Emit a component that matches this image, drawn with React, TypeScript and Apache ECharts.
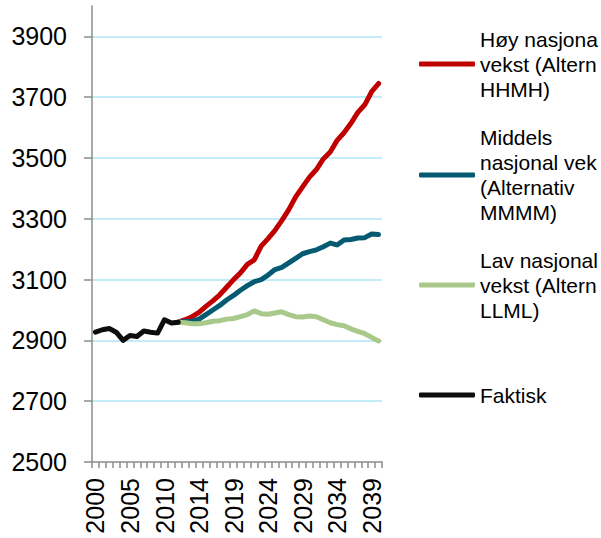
import React, { useEffect, useRef } from "react";
import * as echarts from "echarts";

// Category axis (2012 appears twice in the source workbook)
const categories = [
  "2000", "2001", "2002", "2003", "2004", "2005", "2006", "2007", "2008", "2009",
  "2010", "2011", "2012", "2012", "2013", "2014", "2015", "2016", "2017", "2018",
  "2019", "2020", "2021", "2022", "2023", "2024", "2025", "2026", "2027", "2028",
  "2029", "2030", "2031", "2032", "2033", "2034", "2035", "2036", "2037", "2038",
  "2039", "2040",
];

const yTicks = [2500, 2700, 2900, 3100, 3300, 3500, 3700, 3900];

// Actual values, indices 0..12
const faktisk = [2927, 2935, 2939, 2927, 2900, 2916, 2913, 2931, 2927, 2924, 2968, 2957, 2960];

// Projections start at index 12
const projectionStart = 12;
const hoy = [
  2960, 2968, 2978, 2992, 3012, 3030, 3050, 3075, 3100, 3122, 3150, 3165, 3210, 3235, 3262,
  3295, 3330, 3372, 3405, 3437, 3462, 3497, 3520, 3558, 3583, 3614, 3650, 3675, 3718, 3745,
];
const middels = [
  2960, 2962, 2963, 2970, 2985, 3000, 3015, 3033, 3048, 3065, 3080, 3093, 3100, 3115, 3133,
  3140, 3155, 3170, 3185, 3192, 3198, 3208, 3220, 3214, 3230, 3232, 3237, 3238, 3250, 3248,
];
const lav = [
  2960, 2958, 2955, 2955, 2958, 2963, 2965, 2970, 2972, 2978, 2985, 2997, 2988, 2986, 2990,
  2994, 2985, 2978, 2977, 2980, 2978, 2968, 2958, 2952, 2948, 2938, 2930, 2922, 2910, 2898,
];

const seriesNames = ["Høy", "Middels", "Lav", "Faktisk"];
const legendLines: Record<string, string[]> = {
  "Høy": ["Høy nasjona", "vekst (Altern", "HHMH)"],
  "Middels": ["Middels", "nasjonal vek", "(Alternativ", "MMMM)"],
  "Lav": ["Lav nasjonal", "vekst (Altern", "LLML)"],
  "Faktisk": ["Faktisk"],
};
const seriesColors = ["#c00000", "#045a70", "#a9c98a", "#0d0d0d"];

const FONT = "'Liberation Sans', Arial, sans-serif";
const LEGEND_LH = 25;
const legendCenters = [64, 175, 285, 395];

function padSeries(start: number, vals: number[]): (number | null)[] {
  const out: (number | null)[] = [];
  for (let i = 0; i < start; i++) out.push(null);
  return out.concat(vals);
}

export default function App() {
  const ref = useRef<HTMLDivElement>(null);

  useEffect(() => {
    document.body.style.margin = "0";
    if (!ref.current) return;
    const chart = echarts.init(ref.current, null, { renderer: "svg" });

    const dataSets = [
      padSeries(projectionStart, hoy),
      padSeries(projectionStart, middels),
      padSeries(projectionStart, lav),
      faktisk,
    ];

    const legends = seriesNames.map((name, i) => {
      const n = legendLines[name].length;
      const h = (2 * n - 1) * LEGEND_LH;
      return {
        show: true,
        orient: "vertical",
        left: 419,
        top: legendCenters[i] - h / 2,
        padding: 0,
        itemWidth: 56,
        itemHeight: 5,
        icon: "roundRect",
        selectedMode: false,
        data: [name],
        formatter: (nm: string) => legendLines[nm].join("\n"),
        textStyle: {
          fontFamily: FONT,
          fontSize: 21,
          lineHeight: LEGEND_LH,
          color: "#000",
          padding: [(n - 1) * LEGEND_LH, 0, 0, 0],
        },
      };
    });

    const axisGray = "#8c8c8c";

    chart.setOption({
      animation: false,
      backgroundColor: "#fff",
      legend: legends,
      grid: { left: 92, top: 6, width: 290, height: 456 },
      xAxis: {
        type: "category",
        data: categories,
        boundaryGap: true,
        axisLine: { show: true, lineStyle: { color: axisGray, width: 1.5 } },
        axisTick: { show: true, interval: 0, length: 6, lineStyle: { color: axisGray, width: 1.5 } },
        axisLabel: {
          interval: 4,
          rotate: 90,
          margin: 16,
          fontSize: 25,
          fontFamily: FONT,
          color: "#000",
        },
        splitLine: { show: false },
      },
      yAxis: {
        type: "value",
        min: 2500,
        max: 4000,
        interval: 200,
        axisLine: { show: true, lineStyle: { color: axisGray, width: 1.5 } },
        axisTick: {
          show: true,
          length: 8,
          customValues: yTicks,
          lineStyle: { color: axisGray, width: 1.5 },
        },
        axisLabel: {
          customValues: yTicks,
          showMinLabel: true,
          showMaxLabel: true,
          formatter: (v: number) => String(v),
          margin: 25,
          fontSize: 25,
          fontFamily: FONT,
          color: "#000",
        },
        splitLine: {
          show: true,
          showMinLine: false,
          showMaxLine: true,
          lineStyle: { color: "#aee6f8", width: 1.5 },
        },
      },
      series: seriesNames.map((name, i) => ({
        name,
        type: "line",
        data: dataSets[i],
        symbol: "none",
        showSymbol: false,
        connectNulls: false,
        color: seriesColors[i],
        itemStyle: { color: seriesColors[i] },
        lineStyle: { width: 5, color: seriesColors[i], cap: "round", join: "round" },
      })),
    });

    return () => chart.dispose();
  }, []);

  return (
    <div
      ref={ref}
      style={{ position: "absolute", left: 0, top: 0, width: 601, height: 538 }}
    />
  );
}
